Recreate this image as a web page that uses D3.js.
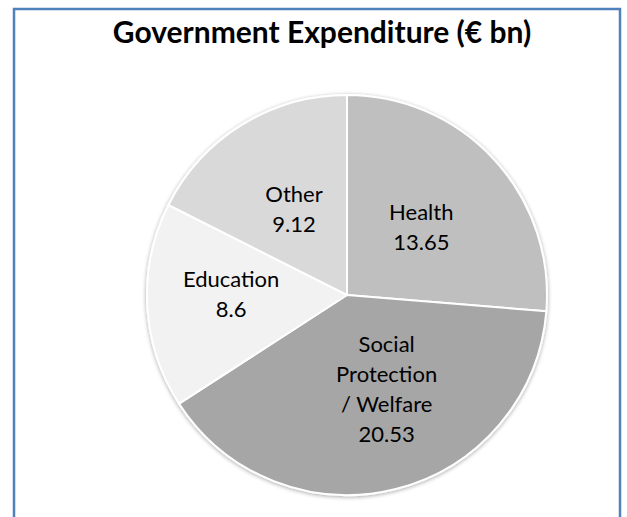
<!DOCTYPE html>
<html>
<head>
<meta charset="utf-8">
<script src="https://cdn.jsdelivr.net/npm/d3@7/dist/d3.min.js"></script>
<style>
body{margin:0;background:#fff}
svg{display:block}
text{font-family:Lato,"Liberation Sans",sans-serif;fill:#000}
</style>
</head>
<body>
<script>

// chart data
var categories = ["Health", "Social Protection / Welfare", "Education", "Other"];
var labelLines = [["Health"], ["Social", "Protection", "/ Welfare"], ["Education"], ["Other"]];
var values = [13.65, 20.53, 8.6, 9.12];
var fills = ["#bfbfbf", "#a6a6a6", "#f2f2f2", "#d9d9d9"];

var W = 627, H = 517,
    cx = 347, cy = 295, R = 200,
    lineH = 30;

// best-fit label nudges, like the spreadsheet does for wide labels
var nudge = {"Education": [-15, -6], "Social Protection / Welfare": [15, -4]};

var svg = d3.select("body").append("svg")
    .attr("width", W)
    .attr("height", H);

// chart area frame (bottom edge runs off the picture)
svg.append("rect")
    .attr("x", 14).attr("y", 9)
    .attr("width", 606).attr("height", 540)
    .attr("fill", "#fff")
    .attr("stroke", "#4f81bd")
    .attr("stroke-width", 2.5);

svg.append("text")
    .attr("x", 322).attr("y", 43)
    .attr("text-anchor", "middle")
    .style("font-size", "30px")
    .style("font-weight", "bold")
    .text("Government Expenditure (€ bn)");

var defs = svg.append("defs");
var f = defs.append("filter").attr("id", "shadow")
    .attr("x", "-10%").attr("y", "-10%").attr("width", "120%").attr("height", "120%");
f.append("feGaussianBlur").attr("in", "SourceAlpha").attr("stdDeviation", 2);
f.append("feOffset").attr("dx", 0).attr("dy", 1).attr("result", "b");
f.append("feComponentTransfer").append("feFuncA").attr("type", "linear").attr("slope", 0.35);
var m = f.append("feMerge");
m.append("feMergeNode");
m.append("feMergeNode").attr("in", "SourceGraphic");

var pie = d3.pie().sort(null).value(function(d){ return d; });
var arcs = pie(values);

var arc = d3.arc().innerRadius(0).outerRadius(R);
var labelArc = d3.arc().innerRadius(0).outerRadius(R * 1.01); // centroid at ~0.5R

var g = svg.append("g").attr("transform", "translate(" + cx + "," + cy + ")");

g.append("g").attr("filter", "url(#shadow)")
  .selectAll("path")
    .data(arcs)
    .enter().append("path")
    .attr("d", arc)
    .attr("fill", function(d, i){ return fills[i]; })
    .attr("stroke", "#fff")
    .attr("stroke-width", 2)
    .attr("stroke-linejoin", "round");

var labels = g.selectAll("text.lbl")
    .data(arcs)
    .enter().append("text")
    .attr("class", "lbl")
    .attr("text-anchor", "middle")
    .style("font-size", "22px")
    .attr("transform", function(d, i){
        var c = labelArc.centroid(d),
            n = nudge[categories[i]] || [0, 0];
        return "translate(" + (c[0] + n[0]) + "," + (c[1] + n[1]) + ")";
    });

labels.each(function(d, i){
    var lines = labelLines[i].concat([String(values[i])]);
    var n = lines.length;
    var t = d3.select(this);
    lines.forEach(function(s, k){
        t.append("tspan")
            .attr("x", 0)
            .attr("y", (k - (n - 1) / 2) * lineH + 8)
            .text(s);
    });
});
</script>
</body>
</html>
